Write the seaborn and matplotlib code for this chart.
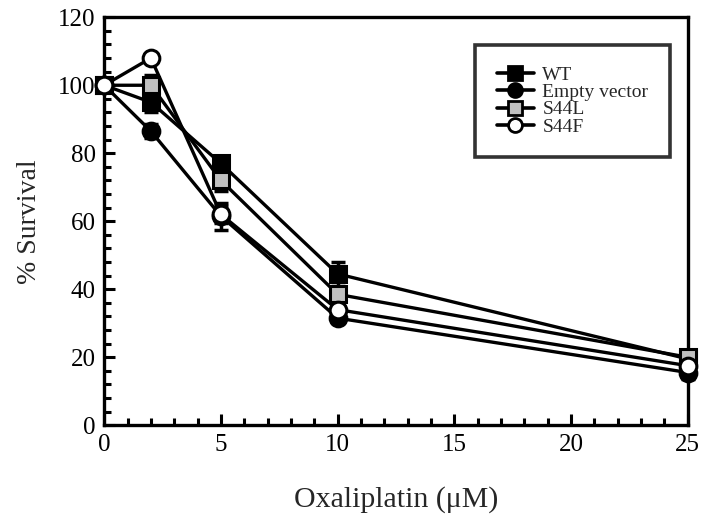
import matplotlib
matplotlib.use("Agg")
import matplotlib.pyplot as plt
from matplotlib.ticker import MultipleLocator
import seaborn as sns
import pandas as pd

dose = [0, 2, 5, 10, 25]
wt = [100, 95, 77, 44.5, 19.5]
wt_err = [2, 3, 2, 3.5, 1.5]
empty = [100, 86.5, 61.5, 31.5, 15.5]
empty_err = [1.5, 2, 4, 1.5, 2]
s44l = [100, 100, 72, 38.5, 20]
s44l_err = [2, 3, 3, 2, 1.5]
s44f = [100, 108, 62, 34, 17.5]
s44f_err = [1.5, 1, 2.5, 2, 1.5]
labels = ["WT", "Empty vector", "S44L", "S44F"]

series = [
    (labels[0], wt, wt_err, "s", "black"),
    (labels[1], empty, empty_err, "o", "black"),
    (labels[2], s44l, s44l_err, "s", "#c0c0c0"),
    (labels[3], s44f, s44f_err, "o", "white"),
]

sns.set_style("ticks")
plt.rcParams["font.family"] = ["Liberation Serif", "DejaVu Serif"]

fig = plt.figure(figsize=(7.04, 5.23), dpi=100)
ax = fig.add_axes([0.148, 0.187, 0.829, 0.780])

for name, vals, errs, mk, fc in series:
    df = pd.DataFrame({"dose": dose, "val": vals})
    eb = ax.errorbar(dose, vals, yerr=errs, fmt="none", ecolor="black",
                     elinewidth=2.5, capsize=5, capthick=2.5, zorder=2)
    for art in eb.lines[1] + eb.lines[2]:
        art.set_clip_on(False)
    sns.lineplot(data=df, x="dose", y="val", ax=ax, color="black",
                 linewidth=2.4, marker=mk, markersize=11 if mk == "s" else 12,
                 markerfacecolor=fc, markeredgecolor="black",
                 markeredgewidth=2.2, label=name, zorder=3, clip_on=False)

ax.set_xlim(0, 25)
ax.set_ylim(0, 120)
ax.xaxis.set_major_locator(MultipleLocator(5))
ax.xaxis.set_minor_locator(MultipleLocator(1))
ax.yaxis.set_major_locator(MultipleLocator(20))
ax.yaxis.set_minor_locator(MultipleLocator(4))
ax.tick_params(which="both", direction="in", width=2.2, top=False, right=False,
               labelsize=18, pad=6, colors="black")
ax.tick_params(which="major", length=8)
ax.tick_params(which="minor", length=5)
for sp in ax.spines.values():
    sp.set_linewidth(2.4)
    sp.set_visible(True)
    sp.set_color("black")

ax.set_xlabel("Oxaliplatin (\u03bcM)", fontsize=21.5, labelpad=22)
ax.set_ylabel("% Survival", fontsize=20, labelpad=12)

leg = ax.legend(loc="upper right", bbox_to_anchor=(0.969, 0.932), fontsize=14,
                frameon=True, fancybox=False, edgecolor="black",
                handlelength=1.9, handletextpad=0.45, labelspacing=-0.02,
                borderpad=1.1, borderaxespad=0)
leg.get_frame().set_linewidth(2.6)
for h in leg.legend_handles:
    h.set_markersize(10)
    h.set_markeredgewidth(2.0)
    h.set_linewidth(2.6)

fig.savefig("out.png", dpi=100)
